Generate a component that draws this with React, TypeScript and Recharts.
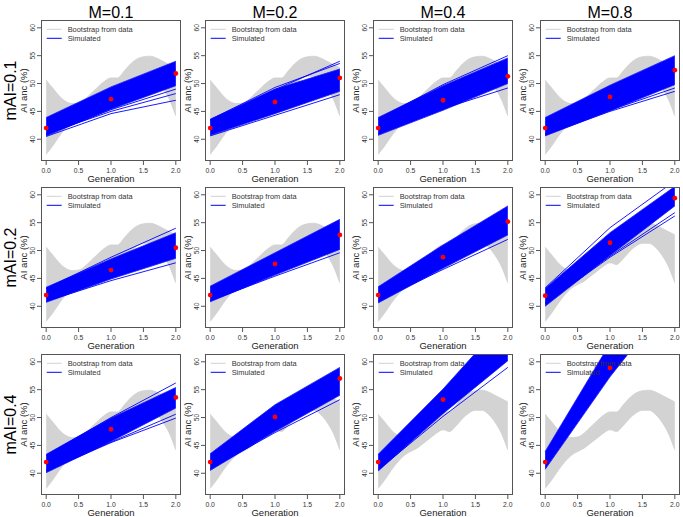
import React from 'react';
import { ComposedChart, XAxis, YAxis, Area, Line, Scatter } from 'recharts';

const generations = [0, 1, 2];
const colLabels = ['M=0.1', 'M=0.2', 'M=0.4', 'M=0.8'];
const rowLabels = ['mAI=0.1', 'mAI=0.2', 'mAI=0.4'];
const xTicks = [0, 0.5, 1, 1.5, 2];
const yTicks = [40, 45, 50, 55, 60];

// Bootstrap (grey) envelope, same in all panels
const bootX = [0, 0.1, 0.2, 0.3, 0.4, 0.5, 0.6, 0.7, 0.8, 0.9, 1.0, 1.1, 1.2, 1.3, 1.4, 1.5, 1.6, 1.7, 1.8, 1.9, 2.0];
const bootLow = [37.3, 38.8, 40.5, 42.0, 43.2, 43.9, 44.5, 45.4, 46.3, 47.2, 47.8, 47.5, 48.5, 49.8, 50.8, 51.3, 51.3, 50.6, 49.2, 47.2, 44.2];
const bootHigh = [50.6, 49.2, 47.8, 46.8, 46.4, 46.5, 47.2, 48.3, 49.4, 50.4, 51.0, 51.0, 52.2, 53.5, 54.4, 54.8, 54.9, 54.6, 54.0, 53.4, 52.8];

// Simulated (blue) envelopes at generations 0, 1, 2
const simLowRow1 = [[40.6, 45.4, 49.6], [40.7, 44.6, 48.6], [40.7, 45.2, 50.0], [40.6, 45.1, 49.8]];
const simHighRow1 = [[43.9, 49.4, 54.0], [43.6, 49.0, 52.6], [43.9, 49.6, 54.6], [43.9, 49.7, 55.0]];
const simLowRow2 = [[40.7, 44.9, 48.6], [40.8, 45.6, 50.2], [40.6, 46.8, 52.8], [40.0, 49.1, 58.0]];
const simHighRow2 = [[43.4, 48.5, 53.2], [43.6, 49.6, 55.6], [43.5, 51.0, 58.0], [43.2, 53.2, 61.5]];
const simLowRow3 = [[40.1, 45.7, 51.7], [40.5, 47.5, 54.0], [40.4, 50.7, 60.2], [40.7, 57.3, 72.0]];
const simHighRow3 = [[43.4, 49.9, 55.4], [43.5, 52.3, 59.0], [43.4, 55.1, 68.0], [43.9, 63.3, 80.0]];

// Individual simulated lines outside the dense band
const outliersRow1 = [
  [[40.8, 45.3, 49.0], [41.0, 45.0, 48.2], [40.5, 44.6, 47.0]],
  [[43.3, 48.9, 54.0], [43.5, 49.3, 53.6], [40.6, 44.3, 48.0]],
  [[41.0, 45.5, 49.2], [43.6, 49.8, 55.0]],
  [[40.8, 45.0, 48.6], [41.0, 45.2, 49.2]],
];
const outliersRow2 = [
  [[43.2, 48.8, 54.0], [40.9, 44.6, 47.8]],
  [[41.0, 45.4, 49.6]],
  [[41.0, 46.6, 52.0]],
  [[43.3, 54.1, 62.5], [40.5, 48.8, 56.2], [40.7, 49.0, 56.8]],
];
const outliersRow3 = [
  [[43.2, 50.0, 56.2], [40.4, 45.5, 49.9], [40.6, 45.6, 50.6]],
  [[40.8, 47.3, 53.2]],
  [[40.6, 50.2, 59.0]],
  [],
];

// Observed (red) points
const obsRow1 = [[42.0, 47.2, 51.8], [42.0, 46.7, 51.0], [42.0, 47.0, 51.3], [42.0, 47.6, 52.4]];
const obsRow2 = [[42.0, 46.5, 50.5], [42.0, 47.6, 52.8], [42.0, 48.8, 55.2], [41.9, 51.4, 59.4]];
const obsRow3 = [[42.0, 47.9, 53.6], [42.0, 50.1, 57.0], [42.0, 53.2, null], [42.0, 58.9, null]];

const simLow = [simLowRow1, simLowRow2, simLowRow3];
const simHigh = [simHighRow1, simHighRow2, simHighRow3];
const outliers = [outliersRow1, outliersRow2, outliersRow3];
const obs = [obsRow1, obsRow2, obsRow3];

const boxLefts = [41, 205, 373, 540];
const boxTops = [20, 187, 354];
const BW = 140;
const BH = 141;
const FONT = '"Liberation Sans", Arial, Helvetica, sans-serif';

const YTick = (props: any) => {
  const { x, y, payload } = props;
  return (
    <text x={x} y={y} transform={`rotate(-90, ${x}, ${y})`} textAnchor="middle" fontSize={6.8} fill="#333" fontFamily={FONT}>
      {payload.value}
    </text>
  );
};

const RedDot = (props: any) => {
  const { cx, cy } = props;
  if (cx == null || cy == null) return null;
  return <circle cx={cx} cy={cy} r={2.4} fill="#ff0000" />;
};

function Panel({ r, c }: { r: number; c: number }) {
  const left = boxLefts[c];
  const top = boxTops[r];
  const low = simLow[r][c];
  const high = simHigh[r][c];
  const bandData = generations.map((g, i) => ({ x: g, y: [low[i], high[i]] }));
  const bootData = bootX.map((x, i) => ({ x, y: [bootLow[i], bootHigh[i]] }));
  const obsData = generations
    .map((g, i) => ({ x: g, y: obs[r][c][i] }))
    .filter((d) => d.y != null);
  return (
    <div style={{ position: 'absolute', left: left - 35, top: top - 5 }}>
      <ComposedChart width={BW + 38} height={BH + 29} margin={{ top: 5, right: 3, left: 0, bottom: 0 }}>
        <XAxis
          type="number"
          dataKey="x"
          domain={[-0.08, 2.08]}
          ticks={xTicks}
          interval={0}
          allowDataOverflow
          height={24}
          axisLine={false}
          tickSize={4}
          tickMargin={3}
          tickLine={{ stroke: '#555' }}
          tick={{ fontSize: 6.8, fill: '#333', fontFamily: FONT }}
          tickFormatter={(v: number) => v.toFixed(1)}
        />
        <YAxis
          type="number"
          dataKey="y"
          domain={[36.1, 61.4]}
          ticks={yTicks}
          interval={0}
          allowDataOverflow
          width={35}
          axisLine={false}
          tickSize={4}
          tickMargin={2}
          tickLine={{ stroke: '#555' }}
          tick={<YTick />}
        />
        <Area data={bootData} dataKey="y" type="monotone" fill="#d3d3d3" fillOpacity={1} stroke="#cfcfcf" strokeWidth={0.8} isAnimationActive={false} dot={false} activeDot={false} />
        <Area data={bandData} dataKey="y" type="linear" fill="#0000ff" fillOpacity={1} stroke="#1a1aff" strokeWidth={0.8} isAnimationActive={false} dot={false} activeDot={false} />
        {outliers[r][c].map((o, k) => (
          <Line
            key={k}
            data={generations.map((g, i) => ({ x: g, y: o[i] }))}
            dataKey="y"
            type="linear"
            stroke="#0000ff"
            strokeWidth={0.9}
            dot={false}
            activeDot={false}
            isAnimationActive={false}
          />
        ))}
        <Scatter data={obsData} dataKey="y" shape={RedDot} isAnimationActive={false} />
      </ComposedChart>
    </div>
  );
}

export default function App() {
  const rows = [0, 1, 2];
  const cols = [0, 1, 2, 3];
  return (
    <div style={{ position: 'absolute', left: 0, top: 0, width: 683, height: 517, background: '#fff', fontFamily: FONT, overflow: 'hidden' }}>
      {rows.map((r) => cols.map((c) => <Panel key={`${r}-${c}`} r={r} c={c} />))}
      {rows.map((r) =>
        cols.map((c) => (
          <div
            key={`b${r}-${c}`}
            style={{ position: 'absolute', left: boxLefts[c], top: boxTops[r], width: BW, height: BH, border: '1px solid #555', boxSizing: 'border-box', pointerEvents: 'none' }}
          />
        ))
      )}
      <svg width={683} height={517} style={{ position: 'absolute', left: 0, top: 0, pointerEvents: 'none' }} fontFamily={FONT}>
        {cols.map((c) => (
          <text key={`t${c}`} x={boxLefts[c] + BW / 2} y={18} textAnchor="middle" fontSize={16} fill="#000">
            {colLabels[c]}
          </text>
        ))}
        {rows.map((r) => (
          <text key={`r${r}`} transform={`translate(16, ${boxTops[r] + BH / 2}) rotate(-90)`} textAnchor="middle" fontSize={16} fill="#000">
            {rowLabels[r]}
          </text>
        ))}
        {rows.map((r) =>
          cols.map((c) => {
            const l = boxLefts[c];
            const t = boxTops[r];
            return (
              <g key={`l${r}-${c}`}>
                <text transform={`translate(${l - 14}, ${t + BH / 2}) rotate(-90)`} textAnchor="middle" fontSize={9.5} fill="#222">
                  AI anc (%)
                </text>
                <text x={l + BW / 2} y={t + BH + 21} textAnchor="middle" fontSize={9.5} fill="#222">
                  Generation
                </text>
                <line x1={l + 5.7} x2={l + 20.7} y1={t + 9.3} y2={t + 9.3} stroke="#d3d3d3" strokeWidth={1} />
                <line x1={l + 5.7} x2={l + 20.7} y1={t + 18.3} y2={t + 18.3} stroke="#0000ff" strokeWidth={1} />
                <text x={l + 26.7} y={t + 11.9} fontSize={7.4} fill="#333">
                  Bootstrap from data
                </text>
                <text x={l + 26.7} y={t + 20.9} fontSize={7.4} fill="#333">
                  Simulated
                </text>
              </g>
            );
          })
        )}
      </svg>
    </div>
  );
}
